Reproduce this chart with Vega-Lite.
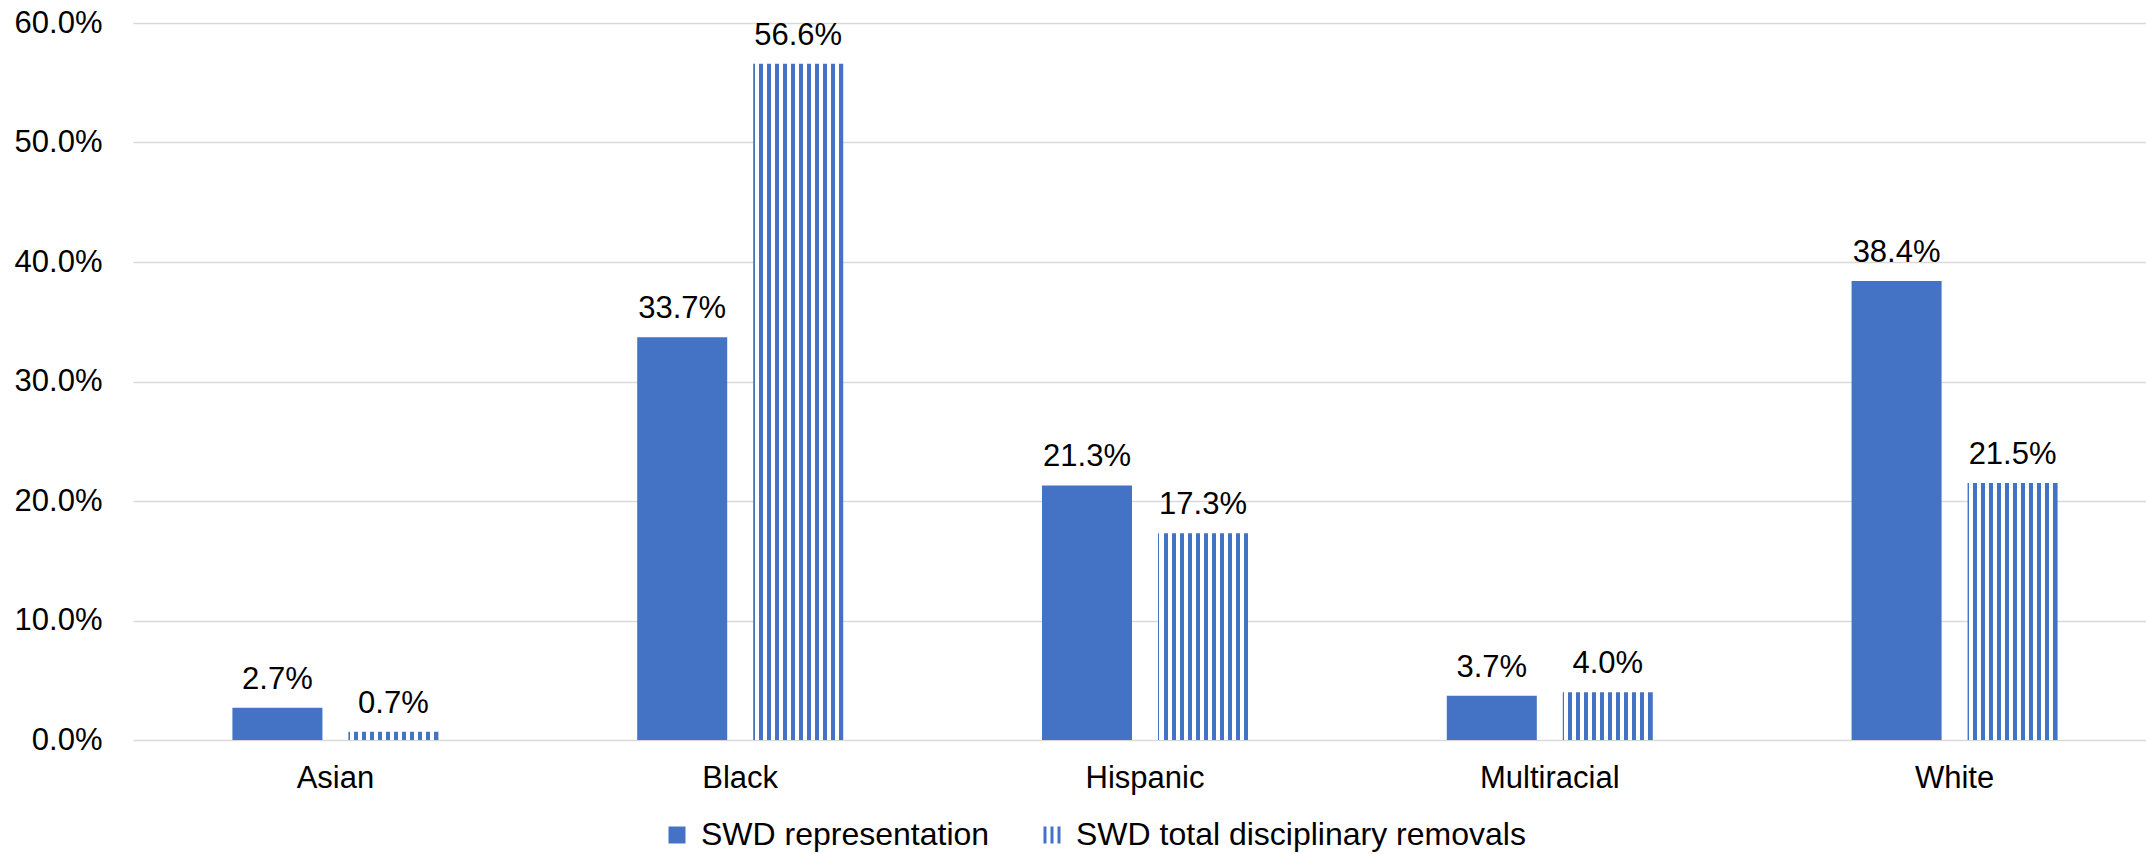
{
  "$schema": "https://vega.github.io/schema/vega-lite/v6.json",
  "width": 2013,
  "height": 717,
  "autosize": {"type": "none"},
  "padding": {"left": 133, "top": 23, "right": 0, "bottom": 114},
  "background": "#ffffff",
  "config": {
    "font": "Liberation Sans",
    "view": {"stroke": null},
    "axis": {"labelFont": "Liberation Sans", "labelFontSize": 31, "labelColor": "#000000"},
    "legend": {"labelFont": "Liberation Sans"}
  },
  "data": {
    "values": [
      {"group": "Asian", "series": "SWD representation", "value": 0.027},
      {"group": "Asian", "series": "SWD total disciplinary removals", "value": 0.007},
      {"group": "Black", "series": "SWD representation", "value": 0.337},
      {"group": "Black", "series": "SWD total disciplinary removals", "value": 0.566},
      {"group": "Hispanic", "series": "SWD representation", "value": 0.213},
      {"group": "Hispanic", "series": "SWD total disciplinary removals", "value": 0.173},
      {"group": "Multiracial", "series": "SWD representation", "value": 0.037},
      {"group": "Multiracial", "series": "SWD total disciplinary removals", "value": 0.040},
      {"group": "White", "series": "SWD representation", "value": 0.384},
      {"group": "White", "series": "SWD total disciplinary removals", "value": 0.215}
    ]
  },
  "encoding": {
    "x": {
      "field": "group",
      "type": "nominal",
      "sort": ["Asian", "Black", "Hispanic", "Multiracial", "White"],
      "scale": {"range": [0, 2024], "paddingInner": 0.4911, "paddingOuter": 0.2456},
      "axis": {"title": null, "domain": false, "ticks": false, "labelPadding": 23, "labelAngle": 0, "grid": false}
    },
    "xOffset": {
      "field": "series",
      "type": "nominal",
      "sort": ["SWD representation", "SWD total disciplinary removals"],
      "scale": {"paddingInner": 0.2241, "paddingOuter": 0}
    },
    "y": {
      "field": "value",
      "type": "quantitative",
      "scale": {"domain": [0, 0.6], "nice": false, "zero": true},
      "axis": {
        "title": null,
        "format": ".1%",
        "values": [0, 0.1, 0.2, 0.3, 0.4, 0.5, 0.6],
        "domain": false,
        "ticks": false,
        "labelPadding": 31,
        "grid": true,
        "gridColor": "#d9d9d9",
        "gridWidth": 1.5
      }
    }
  },
  "layer": [
    {
      "mark": {"type": "bar", "strokeWidth": 0},
      "encoding": {
        "fill": {
          "condition": {
            "test": "datum.series === 'SWD total disciplinary removals'",
            "value": {
              "gradient": "linear",
              "x1": 0, "y1": 0, "x2": 1, "y2": 0,
              "stops": [
                {"offset": 0, "color": "#4472C4"}, {"offset": 0.0144, "color": "#4472C4"},
                {"offset": 0.0144, "color": "#FFFFFF"}, {"offset": 0.0633, "color": "#FFFFFF"},
                {"offset": 0.0633, "color": "#4472C4"}, {"offset": 0.1078, "color": "#4472C4"},
                {"offset": 0.1078, "color": "#FFFFFF"}, {"offset": 0.1522, "color": "#FFFFFF"},
                {"offset": 0.1522, "color": "#4472C4"}, {"offset": 0.1967, "color": "#4472C4"},
                {"offset": 0.1967, "color": "#FFFFFF"}, {"offset": 0.2411, "color": "#FFFFFF"},
                {"offset": 0.2411, "color": "#4472C4"}, {"offset": 0.2856, "color": "#4472C4"},
                {"offset": 0.2856, "color": "#FFFFFF"}, {"offset": 0.3300, "color": "#FFFFFF"},
                {"offset": 0.3300, "color": "#4472C4"}, {"offset": 0.3744, "color": "#4472C4"},
                {"offset": 0.3744, "color": "#FFFFFF"}, {"offset": 0.4189, "color": "#FFFFFF"},
                {"offset": 0.4189, "color": "#4472C4"}, {"offset": 0.4633, "color": "#4472C4"},
                {"offset": 0.4633, "color": "#FFFFFF"}, {"offset": 0.5078, "color": "#FFFFFF"},
                {"offset": 0.5078, "color": "#4472C4"}, {"offset": 0.5522, "color": "#4472C4"},
                {"offset": 0.5522, "color": "#FFFFFF"}, {"offset": 0.5967, "color": "#FFFFFF"},
                {"offset": 0.5967, "color": "#4472C4"}, {"offset": 0.6411, "color": "#4472C4"},
                {"offset": 0.6411, "color": "#FFFFFF"}, {"offset": 0.6856, "color": "#FFFFFF"},
                {"offset": 0.6856, "color": "#4472C4"}, {"offset": 0.7300, "color": "#4472C4"},
                {"offset": 0.7300, "color": "#FFFFFF"}, {"offset": 0.7744, "color": "#FFFFFF"},
                {"offset": 0.7744, "color": "#4472C4"}, {"offset": 0.8189, "color": "#4472C4"},
                {"offset": 0.8189, "color": "#FFFFFF"}, {"offset": 0.8633, "color": "#FFFFFF"},
                {"offset": 0.8633, "color": "#4472C4"}, {"offset": 0.9078, "color": "#4472C4"},
                {"offset": 0.9078, "color": "#FFFFFF"}, {"offset": 0.9522, "color": "#FFFFFF"},
                {"offset": 0.9522, "color": "#4472C4"}, {"offset": 1, "color": "#4472C4"}
              ]
            }
          },
          "value": "#4472C4"
        }
      }
    },
    {
      "mark": {"type": "text", "baseline": "alphabetic", "align": "center", "dy": -19, "fontSize": 31, "font": "Liberation Sans", "color": "#000000"},
      "encoding": {
        "text": {"field": "value", "type": "quantitative", "format": ".1%"}
      }
    },
    {
      "mark": {"type": "point", "filled": true, "size": 0, "opacity": 1, "color": "#4472C4"},
      "encoding": {
        "shape": {
          "field": "series",
          "type": "nominal",
          "sort": ["SWD representation", "SWD total disciplinary removals"],
          "scale": {"range": ["square", "M-1,-1H-0.65V1H-1Z M-0.175,-1H0.175V1H-0.175Z M0.65,-1H1V1H0.65Z"]},
          "legend": {
            "title": null,
            "orient": "none",
            "legendX": 528,
            "legendY": 796,
            "direction": "horizontal",
            "labelFontSize": 32,
            "labelColor": "#000000",
            "labelLimit": 0,
            "symbolSize": 289,
            "symbolFillColor": "#4472C4",
            "symbolStrokeWidth": 0,
            "symbolOpacity": 1,
            "labelOffset": 8,
            "columnPadding": 46,
            "padding": 0
          }
        }
      }
    }
  ]
}
